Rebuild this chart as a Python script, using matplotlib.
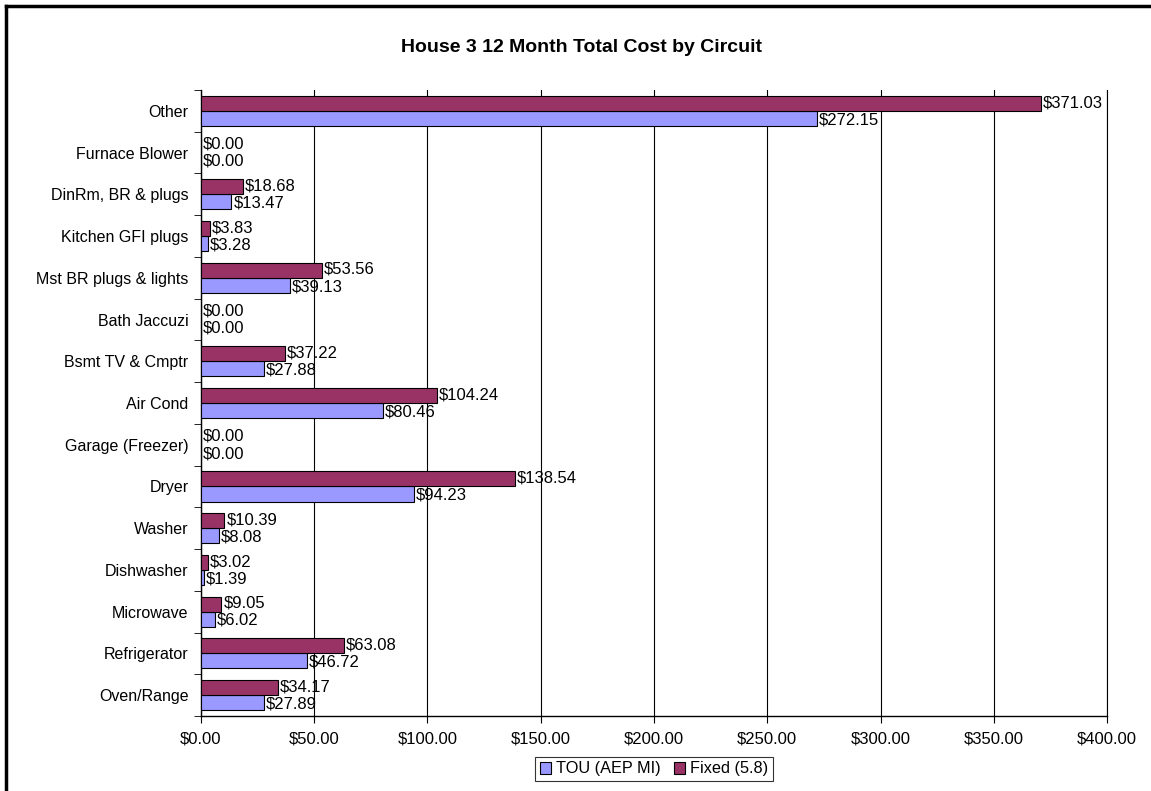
import numpy as np
import matplotlib.pyplot as plt
from matplotlib.lines import Line2D

plt.rcParams['font.family'] = ['Liberation Sans', 'DejaVu Sans']

# Dane (od dolu do gory)
circuits = ['Oven/Range', 'Refrigerator', 'Microwave', 'Dishwasher', 'Washer',
            'Dryer', 'Garage (Freezer)', 'Air Cond', 'Bsmt TV & Cmptr',
            'Bath Jaccuzi', 'Mst BR plugs & lights', 'Kitchen GFI plugs',
            'DinRm, BR & plugs', 'Furnace Blower', 'Other']
tou = [27.89, 46.72, 6.02, 1.39, 8.08, 94.23, 0.00, 80.46, 27.88,
       0.00, 39.13, 3.28, 13.47, 0.00, 272.15]
fixed = [34.17, 63.08, 9.05, 3.02, 10.39, 138.54, 0.00, 104.24, 37.22,
         0.00, 53.56, 3.83, 18.68, 0.00, 371.03]
xticks = [0, 50, 100, 150, 200, 250, 300, 350, 400]

fig = plt.figure(figsize=(11.51, 7.91), dpi=100)
ax = fig.add_axes([0.1746, 0.0948, 0.9618 - 0.1746, 0.8862 - 0.0948])

y = np.arange(len(circuits))
h = 0.36
ax.barh(y - h / 2, tou, height=h, color='#9999FF', edgecolor='black',
        linewidth=0.8, label='TOU (AEP MI)', zorder=3)
ax.barh(y + h / 2, fixed, height=h, color='#993366', edgecolor='black',
        linewidth=0.8, label='Fixed (5.8)', zorder=3)

for yi, v in zip(y, tou):
    ax.text(v + 0.8, yi - h / 2 - 0.03, f'${v:,.2f}', va='center', ha='left',
            fontsize=12, zorder=4)
for yi, v in zip(y, fixed):
    ax.text(v + 0.8, yi + h / 2 + 0.02, f'${v:,.2f}', va='center', ha='left',
            fontsize=12, zorder=4)

ax.set_xlim(0, 400)
ax.set_ylim(-0.5, len(circuits) - 0.5)
ax.set_xticks(xticks)
ax.set_xticklabels([f'${t:.2f}' for t in xticks], fontsize=12)
ax.set_yticks(y)
ax.set_yticklabels(circuits, fontsize=11.5)
ax.tick_params(axis='y', length=0, pad=9)
ax.tick_params(axis='x', length=5, direction='out', pad=6)
# znaczniki na granicach kategorii
ax.set_yticks(np.arange(len(circuits) + 1) - 0.5, minor=True)
ax.tick_params(axis='y', which='minor', length=5, direction='out')

ax.grid(axis='x', color='black', linewidth=0.8, zorder=0)
ax.axvline(400, color='black', linewidth=0.8, zorder=0, clip_on=False)
for s in ['top', 'right']:
    ax.spines[s].set_visible(False)
ax.spines['left'].set_linewidth(1.0)
ax.spines['bottom'].set_linewidth(1.0)

fig.text(0.505, 1 - 48 / 791, 'House 3 12 Month Total Cost by Circuit',
         ha='center', va='center', fontsize=14, fontweight='bold')

leg = fig.legend(loc='center', bbox_to_anchor=(0.568, 1 - 769 / 791),
                 ncol=2, fontsize=11.7, frameon=True, fancybox=False,
                 edgecolor='black', handlelength=0.7, handleheight=0.7,
                 handletextpad=0.3, columnspacing=0.8, borderpad=0.3,
                 borderaxespad=0)
leg.get_frame().set_linewidth(0.8)

# ramka wykresu (lewa i gorna krawedz widoczna)
fig.add_artist(Line2D([6 / 1151, 6 / 1151], [0, 1 - 6 / 791], color='black',
                      linewidth=2.5))
fig.add_artist(Line2D([6 / 1151, 1], [1 - 6 / 791, 1 - 6 / 791], color='black',
                      linewidth=2.5))

fig.savefig('out.png', dpi=100)
